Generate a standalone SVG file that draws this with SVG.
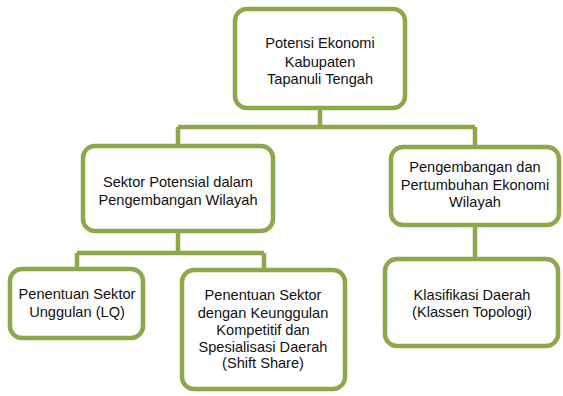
<svg xmlns="http://www.w3.org/2000/svg" width="563" height="396" viewBox="0 0 563 396">
<style>
.box{fill:#fff;stroke:#8CA84B;stroke-width:4.5}
.ln{fill:none;stroke:#8CA84B;stroke-width:4.5}
text{font-family:"Liberation Sans",Arial,sans-serif;font-size:14.6px;fill:#111;text-anchor:middle}
</style>
<rect width="563" height="396" fill="#fff"/>
<g id="connectors">
<path class="ln" d="M320 108V127M178 127H475M178 127V146M475 127V147"/>
<path class="ln" d="M178 231V253M77 253H264M77 253V269M264 253V270"/>
<path class="ln" d="M475 225V259"/>
</g>
<g id="n-top">
<rect class="box" x="235" y="9" width="170" height="99" rx="12"/>
<text x="320" y="48">Potensi Ekonomi</text>
<text x="320" y="67">Kabupaten</text>
<text x="320" y="84">Tapanuli Tengah</text>
</g>
<g id="n-sektor">
<rect class="box" x="83" y="146" width="190" height="85" rx="12"/>
<text x="178" y="187">Sektor Potensial dalam</text>
<text x="178" y="205">Pengembangan Wilayah</text>
</g>
<g id="n-pengembangan">
<rect class="box" x="391" y="147" width="168" height="78" rx="12"/>
<text x="475" y="172">Pengembangan dan</text>
<text x="475" y="190">Pertumbuhan Ekonomi</text>
<text x="475" y="207">Wilayah</text>
</g>
<g id="n-lq">
<rect class="box" x="10" y="269" width="133" height="69" rx="12"/>
<text x="77" y="299">Penentuan Sektor</text>
<text x="77" y="317">Unggulan (LQ)</text>
</g>
<g id="n-shift">
<rect class="box" x="182" y="270" width="163" height="119" rx="12"/>
<text x="263" y="300">Penentuan Sektor</text>
<text x="263" y="318">dengan Keunggulan</text>
<text x="263" y="335">Kompetitif dan</text>
<text x="263" y="352">Spesialisasi Daerah</text>
<text x="263" y="368">(Shift Share)</text>
</g>
<g id="n-klasifikasi">
<rect class="box" x="385" y="259" width="173" height="87" rx="12"/>
<text x="472" y="300">Klasifikasi Daerah</text>
<text x="472" y="317">(Klassen Topologi)</text>
</g>
</svg>
